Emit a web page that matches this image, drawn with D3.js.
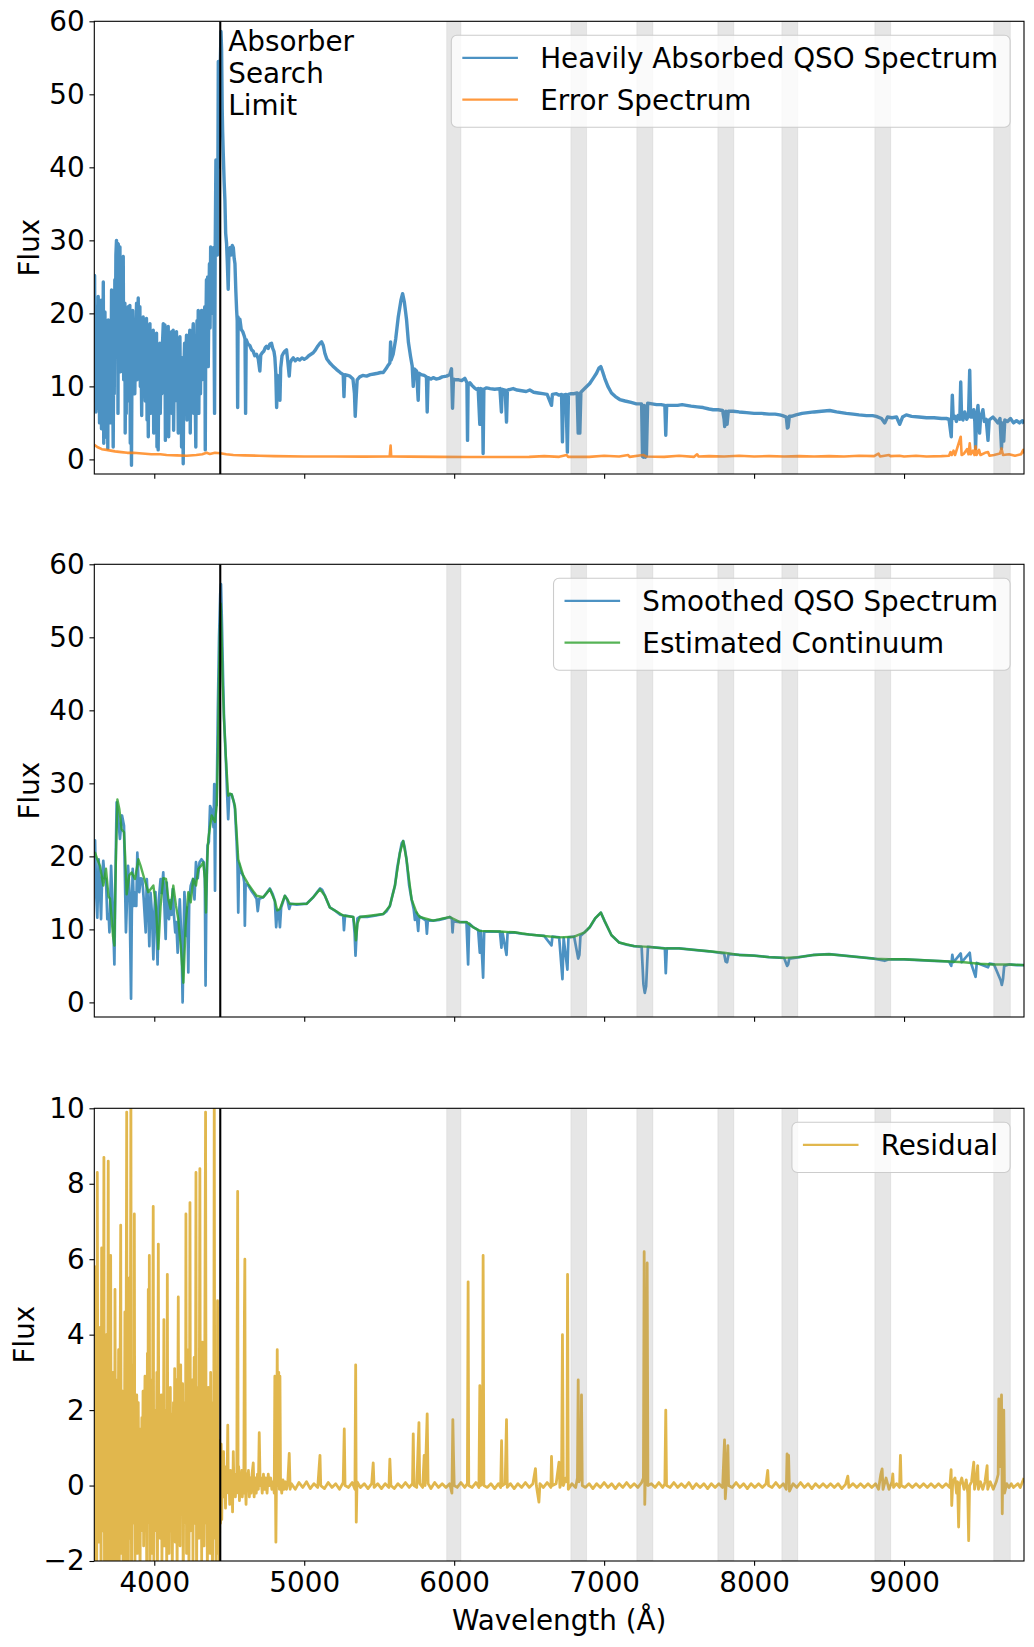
<!DOCTYPE html>
<html>
<head>
<meta charset="utf-8">
<script src="https://cdn.jsdelivr.net/npm/d3@7"></script>
<style>
  body { margin: 0; background: #fff; }
  text { font-family: "DejaVu Sans", sans-serif; }
</style>
</head>
<body>
<svg id="chart" width="1034" height="1647"></svg>
<script>
// wavelength ticks and flux ticks
const waveTicks = [4000, 5000, 6000, 7000, 8000, 9000];
const fluxTicks = [0, 10, 20, 30, 40, 50, 60];
const residualTicks = [-2, 0, 2, 4, 6, 8, 10];

// grey masked regions [start, end] in Angstrom
const bands = [[5950, 6045], [6778, 6883], [7218, 7325], [7758, 7865], [8185, 8291], [8805, 8911], [9598, 9709]];
const searchLimit = 4440;

// [wavelength, flux]
const rawSpectrum = [
  [3600,14],[3602,25.2],[3605,8],[3608,18],[3611,6.5],[3614,20],[3617,12],[3620,21],[3623,7],[3626,22.3],[3629,10],[3632,16],
  [3635,5],[3638,19],[3642,9],[3645,21.8],[3648,4.2],[3652,14],[3656,10],[3660,24.3],[3663,2.2],[3666,15],[3669,6],[3671,20.2],
  [3675,9],[3679,18],[3683,3],[3687,16],[3690,1.5],[3693,19.1],[3697,8],[3701,14],[3705,5],[3709,17],[3712,11],[3715,23.2],
  [3718,5.4],[3722,12],[3726,1.7],[3730,16],[3733,9],[3737,24.6],[3740,14],[3744,28],[3748,30],[3751,20],[3755,29.6],[3758,6.3],
  [3760,29.5],[3764,18],[3768,28],[3771,29.1],[3775,12],[3778,24],[3782,25.5],[3785,14],[3789,22],[3793,27.8],[3796,10.9],[3800,20],
  [3804,21.4],[3806,3.6],[3810,15],[3813,6.3],[3815,19],[3818,11],[3822,20],[3826,20.9],[3830,8],[3834,18],[3837,21.1],[3840,2.2],
  [3844,12],[3848,-0.8],[3852,16],[3856,20.4],[3860,10],[3865,18],[3870,9],[3876,17],[3882,21.4],[3885,10.9],[3889,18],[3893,22.1],
  [3897,12],[3901,19],[3904,20.9],[3907,10],[3911,16],[3916,6],[3920,18],[3926,19.5],[3930,10],[3934,15],[3940,8],[3944,17],
  [3948,19.3],[3952,5.4],[3956,14],[3960,3.1],[3964,15],[3967,9],[3971,18.6],[3975,6.3],[3980,16],[3984,8],[3988,14],[3993,17.7],
  [3996,3.6],[4000,12],[4004,16],[4008,6],[4012,14],[4015,17.3],[4018,1.7],[4022,10],[4026,1.3],[4030,12],[4034,8],[4037,15.9],
  [4040,6.3],[4045,14],[4050,9],[4055,16],[4060,18.6],[4063,10.9],[4067,17],[4071,18.4],[4074,2.6],[4078,12],[4082,8],[4087,15],
  [4093,18.2],[4096,3.1],[4100,12],[4105,7],[4110,15],[4115,17.5],[4118,6.3],[4122,14],[4126,17.7],[4129,4],[4133,12],[4138,8],
  [4143,15],[4148,17.5],[4152,10],[4156,14],[4160,3.6],[4164,12],[4167,8],[4171,16.8],[4175,6.3],[4179,14],[4182,1.7],[4186,12],
  [4190,7],[4193,-0.6],[4197,12],[4202,15.9],[4206,8],[4210,14],[4215,17],[4218,5.4],[4222,13],[4227,9],[4232,16],[4237,17.7],
  [4240,3.6],[4244,14],[4248,9],[4253,16],[4260,18.6],[4263,6.3],[4267,15],[4272,10],[4277,1.7],[4280,14],[4285,19],[4290,10],
  [4293,20.4],[4297,6.3],[4300,15],[4304,20],[4308,9],[4312,17],[4315,20.4],[4318,10.9],[4322,18],[4327,14],[4332,20],[4337,20.9],
  [4340,1.3],[4343,16],[4348,24.6],[4352,14],[4356,25],[4360,12.7],[4364,22],[4368,26.8],[4372,18],[4376,29.1],[4380,22],[4384,27.8],
  [4388,20],[4393,29],[4397,24],[4402,6.3],[4406,28],[4411,41],[4414,30],[4418,34.1],[4421,28],[4424,38],[4427,54.5],[4432,40],
  [4438,52],[4445,58.6],[4449,56],[4453,48],[4456,44.8],[4460,41.9],[4466,38],[4471,35.5],[4476,31],[4482,29.6],[4487,27],[4493,23.3],
  [4498,28.5],[4505,29],[4512,28],[4520,29.3],[4527,29],[4533,27.5],[4538,26.8],[4544,23],[4549,20.5],[4553,19],[4556,7.1],[4559,19.5],
  [4565,18],[4571,19.2],[4580,17.8],[4590,17.5],[4600,16.9],[4605,16.5],[4609,6.3],[4613,16.4],[4625,15.8],[4637,15.6],[4649,15],[4660,14.8],
  [4670,14.2],[4682,14.4],[4693,13.8],[4704,12.1],[4710,14.3],[4720,14.6],[4730,14.8],[4740,15.3],[4749,15.5],[4760,15.2],[4771,15.8],[4782,15.9],
  [4790,15.2],[4798,14.8],[4804,14],[4810,12],[4816,7.1],[4822,11.5],[4830,10.5],[4838,8.1],[4843,12.5],[4852,14.2],[4860,14.5],[4870,14.8],
  [4882,15],[4890,13.5],[4900,11.4],[4906,13.2],[4915,13.6],[4927,13.9],[4940,13.5],[4955,13.8],[4970,13.6],[4985,13.9],[5000,13.7],[5016,13.9],
  [5030,14.2],[5045,14.4],[5060,14.6],[5075,15],[5090,15.5],[5105,15.9],[5116,16.1],[5127,15.6],[5138,14.5],[5150,13.8],[5171,13.2],[5190,12.8],
  [5216,12.3],[5240,11.9],[5260,11.6],[5265,8.6],[5270,11.6],[5290,11.5],[5305,11.4],[5325,11],[5335,9],[5340,5.9],[5345,8],[5353,10.9],
  [5370,11.3],[5390,11.5],[5416,11.4],[5440,11.6],[5465,11.7],[5490,11.8],[5510,11.9],[5527,11.9],[5545,12.4],[5560,12.9],[5571,13.2],[5576,16.1],
  [5579,13.6],[5593,14.4],[5610,16.5],[5627,19.5],[5645,21.8],[5656,22.7],[5668,21.5],[5682,19.2],[5695,16],[5709,14.1],[5720,12.8],[5727,10],
  [5733,12.4],[5749,12.1],[5760,8.1],[5765,11.8],[5780,11.6],[5800,11.5],[5815,11.3],[5820,6.5],[5826,11.2],[5845,11],[5860,11.2],[5880,11],
  [5900,11.1],[5920,11.3],[5949,11.4],[5970,11.6],[5982,12.4],[5989,7],[5995,11],[6005,10.9],[6030,10.9],[6050,10.8],[6071,11.1],[6085,10.5],
  [6089,2.6],[6093,10.4],[6105,10.5],[6120,10.1],[6135,9.8],[6149,9.6],[6160,9.7],[6171,4.8],[6176,9.7],[6188,9.6],[6193,0.8],[6198,9.6],
  [6216,9.8],[6240,9.7],[6270,9.6],[6305,9.7],[6315,6.5],[6320,9.6],[6340,9.5],[6349,5.1],[6355,9.5],[6393,9.7],[6420,9.5],[6450,9.4],
  [6480,9.3],[6504,9.5],[6530,9.2],[6560,9.1],[6590,9],[6620,8.9],[6649,7.4],[6655,8.9],[6682,9],[6700,8.8],[6716,8.9],[6722,2.4],
  [6728,8.8],[6745,8.9],[6755,1],[6762,8.9],[6780,9],[6800,9],[6820,9.1],[6827,3.6],[6833,9],[6838,3.6],[6845,9.2],[6870,9.7],
  [6904,10.4],[6930,11.2],[6949,11.8],[6965,12.5],[6978,12.7],[6990,12],[7004,11.1],[7025,10],[7049,9.1],[7075,8.6],[7104,8.2],[7140,8],
  [7180,7.8],[7215,7.6],[7250,7.6],[7256,0.4],[7262,0.3],[7268,7.4],[7276,0.3],[7282,0.5],[7290,7.7],[7320,7.6],[7350,7.5],[7380,7.5],
  [7405,7.4],[7411,3.3],[7417,7.4],[7450,7.4],[7490,7.4],[7520,7.5],[7549,7.4],[7580,7.3],[7620,7.2],[7660,7.1],[7700,6.9],[7727,6.8],
  [7760,6.8],[7790,6.7],[7800,5.5],[7804,4.5],[7812,6.6],[7820,4.8],[7828,6.6],[7860,6.6],[7900,6.5],[7950,6.4],[8000,6.3],[8050,6.3],
  [8100,6.2],[8140,6.2],[8171,6.1],[8190,6],[8215,5.8],[8222,4.3],[8227,4.4],[8235,5.9],[8249,5.9],[8280,6.1],[8320,6.3],[8360,6.4],
  [8400,6.5],[8450,6.6],[8504,6.7],[8550,6.5],[8615,6.3],[8660,6.2],[8700,6.1],[8750,6],[8790,6],[8815,5.9],[8850,5.6],[8871,5],
  [8890,5.8],[8920,5.7],[8950,5.8],[8971,4.8],[8990,5.8],[9015,6.1],[9050,5.9],[9100,5.8],[9150,5.7],[9200,5.7],[9250,5.6],[9282,5.6],
  [9300,5.5],[9315,3.1],[9318,6],[9322,8.8],[9328,5.6],[9340,5.9],[9349,5.2],[9360,6],[9372,5.5],[9378,10.6],[9384,5.6],[9393,5.4],
  [9405,6.5],[9418,5.5],[9430,6],[9438,12.2],[9444,5.8],[9455,5.8],[9465,6.8],[9472,5.2],[9477,1.5],[9483,5.4],[9493,7.4],[9500,5],
  [9504,3.6],[9510,5.6],[9526,6.8],[9535,5.2],[9548,5.5],[9560,2.6],[9568,5.4],[9580,5.6],[9593,5.8],[9610,5.4],[9626,5],[9640,5.6],
  [9650,1.5],[9657,5],[9665,2.5],[9672,5.4],[9690,5.2],[9710,5.6],[9730,5],[9750,5.3],[9770,5],[9790,5.3],[9800,4.9]
];

const errorSpectrum = [
  [3600,2],[3620,1.7],[3650,1.4],[3682,1.3],[3710,1.2],[3738,1.1],[3780,1],[3820,0.9],[3860,0.9],[3920,0.8],[3980,0.7],[4040,0.7],
  [4082,0.6],[4150,0.55],[4216,0.5],[4280,0.6],[4320,0.7],[4349,0.9],[4370,0.75],[4405,0.9],[4440,0.85],[4480,0.7],[4527,0.6],[4600,0.55],
  [4700,0.5],[4800,0.45],[5000,0.4],[5200,0.4],[5400,0.38],[5570,0.4],[5576,1.9],[5580,0.4],[5700,0.38],[5900,0.35],[6100,0.33],[6300,0.33],
  [6500,0.35],[6600,0.45],[6700,0.35],[6750,0.6],[6760,0.35],[6900,0.35],[7000,0.5],[7100,0.4],[7160,0.6],[7170,0.35],[7260,0.6],[7280,0.4],
  [7400,0.35],[7500,0.5],[7600,0.35],[7620,0.7],[7630,0.4],[7700,0.45],[7800,0.4],[7900,0.5],[8000,0.4],[8100,0.45],[8200,0.4],[8300,0.45],
  [8400,0.4],[8500,0.45],[8600,0.4],[8700,0.5],[8800,0.45],[8830,0.8],[8840,0.4],[8900,0.6],[8910,0.45],[8970,0.5],[9000,0.4],[9080,0.5],
  [9150,0.4],[9250,0.45],[9300,0.5],[9310,1],[9318,0.6],[9330,1.2],[9340,0.6],[9378,3.1],[9384,0.6],[9400,0.8],[9420,1.4],[9430,0.7],
  [9438,2.2],[9445,0.7],[9460,1.2],[9470,0.6],[9477,1.8],[9484,0.6],[9500,1.3],[9510,0.6],[9540,0.9],[9560,1],[9570,0.5],[9600,0.6],
  [9640,0.8],[9650,1.5],[9660,0.6],[9700,0.7],[9740,0.5],[9780,0.7],[9795,1.3],[9800,0.8]
];

const smoothSpectrum = [
  [3600,21.5],[3605,22.2],[3612,15.1],[3620,11.6],[3629,19.6],[3637,16],[3645,11.4],[3652,17],[3660,19.4],[3669,17],[3678,16.9],[3687,11.4],
  [3696,12],[3701,9.6],[3712,18.7],[3722,13],[3730,8],[3734,5.2],[3740,16],[3749,27.4],[3760,25.1],[3771,22.4],[3785,25.6],[3798,24.2],
  [3811,9.6],[3818,14],[3825,18.7],[3835,15],[3845,0.5],[3850,12],[3856,18.3],[3864,13.2],[3871,15],[3880,13.2],[3887,20.5],[3894,17],
  [3900,15.1],[3909,17],[3920,16.9],[3930,14],[3943,9.6],[3950,16.9],[3960,13],[3967,7.7],[3975,15],[3985,12],[3994,5.9],[4000,12],
  [4008,15.1],[4015,10],[4022,5.2],[4030,14],[4042,16.9],[4050,15],[4060,17.8],[4068,13],[4076,8.7],[4083,16.4],[4090,12],[4098,11.4],
  [4106,14],[4115,12],[4123,15.5],[4131,12],[4140,9.6],[4147,11],[4156,6.8],[4163,11],[4170,14.1],[4178,10],[4184,6],[4189,0],
  [4195,8],[4201,15.1],[4208,12],[4214,9.1],[4220,13],[4227,4.1],[4233,14],[4243,16],[4258,16.9],[4268,14.1],[4278,19.2],[4290,17],
  [4302,19.2],[4315,19.6],[4330,19.2],[4337,17],[4342,2.3],[4347,14],[4355,21.5],[4364,22],[4372,26.9],[4387,26],[4395,24],[4400,29.9],
  [4405,15.3],[4410,26.9],[4416,27],[4424,40],[4432,50],[4440,56],[4445,57.3],[4451,52],[4458,45],[4465,39],[4478,33],[4485,29],
  [4493,25.1],[4500,28.5],[4516,28.5],[4530,27.5],[4538,26.5],[4549,22],[4555,19],[4560,12.3],[4565,19],[4575,18],[4593,17.3],[4600,16.5],
  [4604,10.5],[4609,16.2],[4627,16],[4650,15.2],[4665,14.8],[4682,14.2],[4690,12.5],[4700,14.2],[4727,14.4],[4750,15],[4771,15.6],[4790,14.8],
  [4804,13.9],[4813,10.3],[4820,12.6],[4830,12.6],[4838,10.3],[4846,13],[4871,14.6],[4887,14.1],[4900,12.8],[4910,13.5],[4950,13.4],[5000,13.5],
  [5016,13.5],[5060,14.4],[5090,15.2],[5105,15.6],[5120,15.4],[5138,14.6],[5171,13],[5210,12.5],[5240,12],[5260,11.9],[5265,9.9],[5272,11.9],
  [5300,11.8],[5327,11.7],[5336,9.5],[5342,6.4],[5348,9],[5355,11.5],[5371,11.7],[5420,11.7],[5480,11.9],[5527,12.1],[5550,12.5],[5571,13.2],
  [5590,14.8],[5605,16],[5620,18.4],[5638,20.5],[5650,21.8],[5660,22.1],[5670,21.2],[5682,19.6],[5700,16],[5716,14.1],[5730,12.8],[5738,11.3],
  [5749,12.3],[5760,9.8],[5766,11.8],[5790,11.5],[5812,11.2],[5818,9.4],[5824,11.2],[5860,11.2],[5900,11.3],[5940,11.5],[5971,11.7],[5985,11.4],
  [5989,9.6],[5994,11.1],[6038,11],[6082,11],[6093,5.2],[6100,10.8],[6127,10.3],[6160,9.9],[6171,6.8],[6178,9.8],[6193,3.4],[6200,9.7],
  [6250,9.7],[6305,9.7],[6315,7.5],[6322,9.6],[6349,6.5],[6356,9.5],[6400,9.6],[6450,9.4],[6500,9.3],[6550,9.2],[6600,9.1],[6649,7.8],
  [6655,9],[6700,8.9],[6722,3.2],[6730,8.8],[6755,4.5],[6762,8.9],[6800,9],[6827,6],[6835,6.5],[6842,9.1],[6870,9.6],[6904,10.3],
  [6940,11.5],[6978,12.3],[7004,11.1],[7049,9.2],[7100,8.2],[7150,7.9],[7200,7.7],[7250,7.6],[7262,2.5],[7271,1.3],[7280,2.2],[7292,7.6],
  [7350,7.5],[7405,7.4],[7411,4],[7418,7.4],[7500,7.4],[7600,7.2],[7700,7],[7800,6.7],[7810,5.6],[7820,5.5],[7830,6.6],[7900,6.5],
  [8000,6.4],[8100,6.2],[8200,6.1],[8220,5],[8227,5.2],[8235,6],[8300,6.2],[8400,6.5],[8500,6.6],[8600,6.4],[8700,6.2],[8800,6],
  [8871,5.7],[8900,5.9],[9000,5.9],[9100,5.8],[9200,5.7],[9300,5.6],[9315,5],[9322,6.5],[9330,5.5],[9378,6.7],[9385,5.5],[9438,6.8],
  [9445,5.5],[9477,3.5],[9485,5.4],[9500,5.3],[9560,4.8],[9570,5.3],[9600,5.2],[9645,3],[9652,2.4],[9660,3.2],[9668,5],[9700,5.2],
  [9750,5.1],[9800,5.1]
];

const continuum = [
  [3600,20.3],[3605,20.5],[3620,19.6],[3638,18.7],[3660,16],[3678,18.3],[3695,14.5],[3705,14.2],[3725,9],[3734,7.8],[3740,15],[3745,20.5],
  [3754,27.8],[3767,26.5],[3782,23.7],[3798,23.3],[3806,20],[3816,14.8],[3833,17.4],[3849,17.8],[3871,16.9],[3894,19.6],[3909,18.7],[3927,17.4],
  [3960,15.1],[3994,16],[4011,13.2],[4027,7.3],[4042,13.2],[4060,17],[4078,16.9],[4094,14.1],[4109,12.8],[4127,16],[4145,13.2],[4160,11.4],
  [4176,7.8],[4194,2.7],[4209,10.5],[4227,15.1],[4243,13.7],[4260,16.9],[4278,16],[4294,18.3],[4312,18.7],[4327,19.2],[4337,17],[4345,12.3],
  [4352,19],[4360,22.4],[4383,25.6],[4405,24.7],[4416,26.9],[4425,35],[4432,45],[4438,51],[4443,54.6],[4449,50],[4456,44],[4465,38.8],
  [4478,33.3],[4493,28.3],[4505,28.6],[4516,28.5],[4538,26.9],[4549,23.3],[4560,19.6],[4593,17.4],[4627,16.2],[4682,14.6],[4727,14.4],[4771,15.5],
  [4804,13.9],[4820,12.6],[4838,12.8],[4871,14.6],[4887,14.1],[4904,13.5],[5016,13.5],[5060,14.4],[5105,15.5],[5138,14.6],[5171,13],[5260,11.9],
  [5327,11.7],[5336,10.5],[5345,8.5],[5355,10.8],[5371,11.7],[5527,12.1],[5571,13.2],[5605,16],[5638,20.5],[5660,22.1],[5682,19.6],[5716,14.1],
  [5749,12.3],[5771,11.7],[5860,11.2],[5971,11.7],[6038,11],[6082,11],[6127,10.3],[6171,9.8],[6305,9.7],[6400,9.6],[6500,9.3],[6600,9.1],
  [6700,8.9],[6800,9],[6870,9.6],[6904,10.3],[6940,11.5],[6978,12.3],[7004,11.1],[7049,9.2],[7100,8.2],[7200,7.7],[7300,7.6],[7400,7.4],
  [7500,7.4],[7600,7.2],[7700,7],[7800,6.8],[7900,6.5],[8000,6.4],[8100,6.2],[8200,6.1],[8300,6.2],[8400,6.5],[8500,6.6],[8600,6.4],
  [8700,6.2],[8800,6],[8900,5.9],[9000,5.9],[9100,5.8],[9200,5.7],[9300,5.6],[9400,5.5],[9500,5.3],[9600,5.2],[9700,5.2],[9800,5.1]
];

const residual = [
  [3600,-3],[3603,5.8],[3607,-1],[3612,2],[3616,-2.6],[3620,8.3],[3624,0.5],[3628,-1.5],[3633,3.4],[3637,-0.5],[3641,4.2],[3645,-3],
  [3649,6.3],[3653,1],[3657,-1.2],[3661,2.5],[3664,8.7],[3668,-2.4],[3672,1.5],[3676,-0.8],[3681,4],[3685,-2.8],[3689,0.8],[3693,8.6],
  [3697,-1.5],[3701,2.2],[3705,-3],[3709,6.1],[3713,-0.6],[3717,1.8],[3721,-2.5],[3725,3],[3729,0.2],[3734,-3.5],[3738,5.2],[3742,-1],
  [3746,2.8],[3750,-2.2],[3754,1.2],[3758,-0.4],[3762,3.6],[3766,-2.8],[3770,1],[3776,6.9],[3780,-1.8],[3784,0.6],[3788,2.5],[3792,-2.6],
  [3796,1.4],[3800,-0.8],[3804,4.6],[3808,-2],[3812,3],[3816,9.9],[3819,-0.5],[3823,2],[3827,-3],[3831,5.5],[3835,-1.4],[3839,0.8],
  [3844,10.5],[3848,-2.8],[3852,1.6],[3856,-1],[3860,3.2],[3864,-0.4],[3867,7.2],[3871,-2.2],[3875,1.2],[3879,-0.6],[3883,2.4],[3887,-1.8],
  [3893,2.2],[3897,-0.3],[3901,1.5],[3905,-2.5],[3909,0.8],[3913,-1.2],[3917,1.8],[3921,-0.5],[3925,2.5],[3929,-1.6],[3933,0.6],[3938,2.9],
  [3942,-0.9],[3946,1.4],[3950,-2.8],[3954,3.5],[3957,-0.2],[3960,5.2],[3964,-1],[3967,6.1],[3971,-2.4],[3975,1],[3979,-0.6],[3983,2.8],
  [3987,-1.8],[3990,3.8],[3993,7.4],[3997,-2],[4001,0.8],[4005,-1.2],[4009,2],[4013,-0.4],[4017,3],[4021,-2.6],[4027,6.4],[4031,-0.8],
  [4035,1.6],[4039,-1.4],[4043,0.5],[4047,2.4],[4051,-2.2],[4055,1],[4060,-0.5],[4064,4.4],[4068,-1.6],[4072,1.2],[4076,-0.8],[4080,2],
  [4083,-2.8],[4087,5.6],[4091,-0.6],[4095,1.4],[4099,-1.8],[4103,0.9],[4107,2.6],[4111,-1.2],[4116,1.9],[4120,-2.5],[4124,0.6],[4128,2.2],
  [4132,-0.9],[4136,3.1],[4140,-1.5],[4144,0.4],[4148,2.8],[4152,-2.6],[4156,1.2],[4160,5],[4164,-0.8],[4168,1.6],[4172,-1.6],[4176,3.2],
  [4180,-0.4],[4184,1],[4189,2.7],[4193,-3],[4197,0.6],[4201,-1],[4205,2.2],[4208,-0.6],[4211,7.2],[4215,-1.8],[4219,1.4],[4223,-0.8],
  [4227,3.6],[4231,-2.4],[4234,0.8],[4238,7.5],[4242,-1.2],[4246,1.6],[4250,-0.6],[4254,2.8],[4258,-2],[4262,1],[4266,3.4],[4270,-1],
  [4274,0.6],[4278,8.3],[4282,-2.8],[4286,1.2],[4290,-0.5],[4294,2.6],[4298,-1.4],[4304,8.4],[4308,-0.8],[4312,1.8],[4316,-2],[4320,3.8],
  [4324,-0.4],[4328,1],[4332,-1.6],[4336,2.4],[4342,9.9],[4346,-1],[4350,1.4],[4354,-2.4],[4360,2.6],[4364,-0.6],[4368,1.2],[4372,-1.8],
  [4376,3],[4380,-0.4],[4384,1.6],[4388,-2.8],[4392,2.2],[4396,-0.8],[4400,10.5],[4404,-1.4],[4408,1],[4412,-2.2],[4416,2.4],[4420,-0.6],
  [4422,4.9],[4426,-1.8],[4430,1.2],[4434,-3],[4438,0.8],[4442,-1],[4446,1.1],[4450,-0.9],[4454,0.6],[4458,-0.3],[4462,0.9],[4466,-0.2],
  [4470,0.4],[4475,-0.6],[4480,0.5],[4485,-0.1],[4490,1.6],[4494,-0.2],[4498,0.3],[4503,-0.5],[4508,0.4],[4513,-0.1],[4518,0.3],[4522,-0.7],
  [4527,0.9],[4531,0],[4536,0.3],[4541,-0.3],[4546,0.2],[4550,-0.1],[4553,4],[4556,7.8],[4559,-0.2],[4563,0.5],[4568,-0.4],[4573,0.3],
  [4578,-0.1],[4583,0.4],[4587,-0.3],[4592,0.2],[4597,-0.2],[4601,4.5],[4604,6],[4607,0.1],[4612,-0.5],[4617,0.3],[4622,-0.1],[4628,0.4],
  [4634,-0.3],[4640,0.2],[4646,-0.2],[4652,0.3],[4660,0.6],[4666,-0.3],[4672,0.2],[4680,-0.2],[4688,0.3],[4694,-0.1],[4700,1.4],[4706,0],
  [4712,0.2],[4720,-0.2],[4728,0.3],[4736,-0.1],[4744,0.2],[4752,-0.2],[4760,0.3],[4768,0],[4776,0.2],[4784,-0.1],[4792,0.1],[4800,-0.2],
  [4804,2.9],[4808,0.1],[4811,-1.5],[4815,0.2],[4820,3.6],[4824,0],[4830,3],[4834,-0.1],[4838,2.9],[4842,0.1],[4850,-0.2],[4858,0.15],
  [4866,-0.1],[4874,0.1],[4882,-0.1],[4890,0.05],[4900,0.85],[4906,-0.1],[4914,0.05],[4940,-0.1],[4965,0.08],[4990,-0.05],[5015,0.1],[5040,-0.08],
  [5065,0.05],[5090,-0.05],[5105,0.8],[5110,0],[5135,-0.08],[5160,0.08],[5185,-0.05],[5210,0.05],[5235,-0.1],[5260,0.08],[5267,1.5],[5272,0],
  [5295,-0.05],[5320,0.08],[5338,-0.1],[5343,3.2],[5347,-0.97],[5352,0.1],[5375,-0.05],[5400,0.05],[5425,-0.08],[5450,0.05],[5460,0.6],[5466,-0.05],
  [5490,0.05],[5515,-0.08],[5540,0.05],[5565,-0.05],[5571,0.7],[5578,0],[5600,-0.08],[5625,0.05],[5650,-0.05],[5675,0.08],[5700,-0.05],[5722,0.05],
  [5727,1.37],[5732,0],[5750,-0.05],[5765,1.67],[5770,0.05],[5790,-0.05],[5800,0.8],[5806,0],[5820,1.9],[5826,0.05],[5845,-0.08],[5870,0.08],
  [5895,-0.05],[5920,0.05],[5945,-0.05],[5970,0.05],[5985,-0.2],[5991,1.75],[5995,0.9],[6000,0],[6020,-0.05],[6045,0.08],[6070,-0.05],[6088,0.05],
  [6093,5.4],[6097,0],[6120,-0.05],[6145,0.08],[6165,-0.05],[6171,2.65],[6176,0],[6188,0.05],[6193,6.1],[6198,0],[6220,-0.05],[6245,0.05],
  [6270,-0.08],[6295,0.05],[6310,-0.05],[6316,1.19],[6321,0],[6340,0.05],[6349,1.75],[6354,-0.05],[6375,0.05],[6400,-0.08],[6425,0.05],[6450,-0.05],
  [6475,0.08],[6500,-0.05],[6525,0.05],[6542,0.45],[6548,0],[6565,-0.44],[6572,0.05],[6595,-0.05],[6620,0.08],[6645,-0.05],[6649,0.77],[6655,0],
  [6680,0.05],[6699,0.62],[6705,-0.05],[6716,0.1],[6722,4],[6728,0],[6745,0.2],[6752,0.1],[6756,5.6],[6761,-0.1],[6785,0.05],[6810,-0.05],
  [6822,0.2],[6827,2.8],[6832,0.1],[6845,0.3],[6849,2.4],[6854,0],[6875,-0.05],[6900,0.05],[6925,-0.08],[6950,0.05],[6975,-0.05],[7000,0.08],
  [7025,-0.05],[7050,0.05],[7075,-0.08],[7100,0.05],[7125,-0.05],[7150,0.08],[7175,-0.05],[7200,0.05],[7225,-0.05],[7250,0.08],[7262,0.2],[7267,6.2],
  [7271,-0.5],[7275,0.3],[7282,1],[7287,5.9],[7292,0],[7315,0.05],[7340,-0.05],[7365,0.08],[7390,-0.05],[7405,0.05],[7411,2],[7416,0],
  [7440,-0.05],[7465,0.08],[7490,-0.05],[7515,0.05],[7540,-0.05],[7565,0.08],[7590,-0.08],[7615,0.05],[7640,-0.05],[7665,0.05],[7690,-0.08],[7715,0.05],
  [7740,-0.05],[7765,0.05],[7790,-0.05],[7803,1.21],[7808,-0.35],[7815,0.1],[7825,1.06],[7830,0],[7855,-0.05],[7880,0.08],[7905,-0.05],[7930,0.05],
  [7955,-0.08],[7980,0.05],[8005,-0.05],[8030,0.05],[8055,-0.05],[8080,0.05],[8091,0.4],[8096,0],[8120,-0.05],[8145,0.08],[8170,-0.05],[8195,0.05],
  [8215,-0.1],[8220,0.84],[8225,0.3],[8230,0.8],[8236,-0.15],[8260,0.05],[8285,-0.05],[8310,0.08],[8335,-0.05],[8360,0.05],[8385,-0.08],[8410,0.05],
  [8435,-0.05],[8460,0.05],[8485,-0.05],[8510,0.05],[8535,-0.05],[8560,0.05],[8585,-0.08],[8610,0.03],[8625,0.25],[8632,-0.05],[8660,0.05],[8685,-0.05],
  [8710,0.05],[8735,-0.05],[8760,0.05],[8785,-0.05],[8810,0.05],[8830,-0.1],[8845,0.3],[8854,0.44],[8860,-0.1],[8880,0.2],[8900,-0.1],[8920,0.1],
  [8925,0.31],[8930,-0.05],[8950,0.05],[8970,-0.05],[8976,0.8],[8981,0],[9005,-0.05],[9030,0.05],[9055,-0.05],[9080,0.05],[9105,-0.05],[9130,0.05],
  [9155,-0.05],[9180,0.05],[9205,-0.05],[9230,0.05],[9255,-0.05],[9280,0.05],[9305,-0.05],[9314,0.42],[9318,-0.53],[9325,0.1],[9340,0.2],[9350,-0.2],
  [9357,0.1],[9364,-1.1],[9370,0],[9385,0.2],[9400,-0.1],[9415,0.15],[9425,-0.2],[9431,-1.46],[9437,0],[9450,0.1],[9465,0.62],[9470,-0.1],
  [9480,0.1],[9491,0.53],[9496,-0.1],[9510,0.1],[9525,-0.1],[9540,0.1],[9554,0.53],[9558,-0.1],[9575,0.1],[9595,-0.1],[9615,0.1],[9628,0.3],
  [9632,2.3],[9640,0.5],[9647,1.5],[9650,2.4],[9655,-0.75],[9660,1],[9665,2],[9670,-0.2],[9685,0.05],[9700,-0.05],[9715,0.05],[9730,-0.05],
  [9745,0],[9760,0.05],[9775,-0.05],[9790,0.1],[9800,0.2]
];

const fontSize = 27.8;
const left = 94.3;
const right = 1024;
const panelH = 452.7;
const panelTops = [21.3, 564.3, 1108.3];

const svg = d3.select("#chart");

const x = d3.scaleLinear().domain([3600, 9800]).range([left, right]);

const drawPanel = (idx, yDomain, yTicks, showXLabels) => {
  const top = panelTops[idx];
  const y = d3.scaleLinear().domain(yDomain).range([top + panelH, top]);
  const g = svg.append("g").attr("class", "panel-" + idx);

  g.append("clipPath")
    .attr("id", "clip" + idx)
    .append("rect")
    .attr("x", left)
    .attr("y", top)
    .attr("width", right - left)
    .attr("height", panelH);

  const plot = g.append("g").attr("clip-path", `url(#clip${idx})`);

  const xAxis = d3
    .axisBottom(x)
    .tickValues(waveTicks)
    .tickSize(4.86)
    .tickSizeOuter(0)
    .tickPadding(6)
    .tickFormat(showXLabels ? d3.format("d") : () => "");

  const yAxis = d3
    .axisLeft(y)
    .tickValues(yTicks)
    .tickSize(4.86)
    .tickSizeOuter(0)
    .tickPadding(4.86)
    .tickFormat((v) => (v < 0 ? "\u2212" + Math.abs(v) : String(v)));

  const gx = g
    .append("g")
    .attr("transform", `translate(0, ${top + panelH})`)
    .call(xAxis);
  const gy = g.append("g").attr("transform", `translate(${left}, 0)`).call(yAxis);

  [gx, gy].forEach((ax) => {
    ax.select(".domain").remove();
    ax.selectAll("line").attr("stroke", "#000").attr("stroke-width", 1.1);
    ax.selectAll("text").style("font-size", fontSize + "px").attr("fill", "#000");
  });

  const labelX = gy.node().getBBox().x + left - 10;
  g.append("text")
    .attr("transform", `translate(${labelX}, ${top + panelH / 2}) rotate(-90)`)
    .attr("text-anchor", "middle")
    .style("font-size", fontSize + "px")
    .text("Flux");

  return { g, plot, y, top };
};

const drawLine = (panel, data, color, width) => {
  const line = d3
    .line()
    .x((d) => x(d[0]))
    .y((d) => panel.y(d[1]));
  panel.plot
    .append("path")
    .datum(data)
    .attr("d", line)
    .attr("fill", "none")
    .attr("stroke", color)
    .attr("stroke-opacity", 0.8)
    .attr("stroke-width", width)
    .attr("stroke-linejoin", "round");
};

const drawBands = (panel) => {
  panel.plot
    .selectAll("rect.band")
    .data(bands)
    .enter()
    .append("rect")
    .attr("class", "band")
    .attr("x", (d) => x(d[0]))
    .attr("y", panel.top)
    .attr("width", (d) => x(d[1]) - x(d[0]))
    .attr("height", panelH)
    .attr("fill", "gray")
    .attr("fill-opacity", 0.2)
    .attr("stroke", "gray")
    .attr("stroke-opacity", 0.12)
    .attr("stroke-width", 1);
};

const drawLimit = (panel) => {
  panel.plot
    .append("line")
    .attr("x1", x(searchLimit))
    .attr("x2", x(searchLimit))
    .attr("y1", panel.top)
    .attr("y2", panel.top + panelH)
    .attr("stroke", "#000")
    .attr("stroke-width", 2.1);
};

const drawFrame = (panel) => {
  panel.g
    .append("rect")
    .attr("x", left)
    .attr("y", panel.top)
    .attr("width", right - left)
    .attr("height", panelH)
    .attr("fill", "none")
    .attr("stroke", "#000")
    .attr("stroke-width", 1.1);
};

const drawLegend = (panel, items) => {
  const lg = panel.g.append("g");
  const box = lg.append("rect");
  const texts = items.map((item, i) =>
    lg
      .append("text")
      .attr("y", panel.top + 13.9 + 22.7 + i * 41.7 + 10)
      .style("font-size", fontSize + "px")
      .text(item.label)
  );
  const textW = d3.max(texts, (t) => t.node().getComputedTextLength());
  const boxW = 88.8 + textW + 12;
  const boxH = 22.7 + (items.length - 1) * 41.7 + 27.6;
  const bx = right - 13.9 - boxW;
  const by = panel.top + 13.9;
  box
    .attr("x", bx)
    .attr("y", by)
    .attr("width", boxW)
    .attr("height", boxH)
    .attr("rx", 5.5)
    .attr("fill", "#fff")
    .attr("fill-opacity", 0.8)
    .attr("stroke", "#ccc")
    .attr("stroke-width", 1.1);
  texts.forEach((t) => t.attr("x", bx + 88.8));
  items.forEach((item, i) => {
    lg.append("line")
      .attr("x1", bx + 11)
      .attr("x2", bx + 11 + 55.6)
      .attr("y1", by + 22.7 + i * 41.7)
      .attr("y2", by + 22.7 + i * 41.7)
      .attr("stroke", item.color)
      .attr("stroke-opacity", 0.8)
      .attr("stroke-width", 2.1);
  });
};

const blue = "#1f77b4";
const orange = "#ff7f0e";
const green = "#2ca02c";
const gold = "#daa520";

// panel 1: raw spectrum with error
const p1 = drawPanel(0, [-2, 60], fluxTicks, false);
drawLine(p1, rawSpectrum, blue, 3.4);
drawLine(p1, errorSpectrum, orange, 2.6);
drawBands(p1);
drawLimit(p1);
drawFrame(p1);
["Absorber", "Search", "Limit"].forEach((word, i) => {
  p1.g
    .append("text")
    .attr("x", x(searchLimit) + 8)
    .attr("y", 51 + i * 32)
    .style("font-size", fontSize + "px")
    .text(word);
});
drawLegend(p1, [
  { label: "Heavily Absorbed QSO Spectrum", color: blue },
  { label: "Error Spectrum", color: orange }
]);

// panel 2: smoothed spectrum and continuum fit
const p2 = drawPanel(1, [-2, 60], fluxTicks, false);
drawLine(p2, smoothSpectrum, blue, 2.7);
drawLine(p2, continuum, green, 2.4);
drawBands(p2);
drawLimit(p2);
drawFrame(p2);
drawLegend(p2, [
  { label: "Smoothed QSO Spectrum", color: blue },
  { label: "Estimated Continuum", color: green }
]);

// panel 3: residual
const p3 = drawPanel(2, [-2, 10], residualTicks, true);
drawLine(p3, residual, gold, 2.8);
drawBands(p3);
drawLimit(p3);
drawFrame(p3);
drawLegend(p3, [{ label: "Residual", color: gold }]);

svg
  .append("text")
  .attr("x", (left + right) / 2)
  .attr("y", 1630)
  .attr("text-anchor", "middle")
  .style("font-size", fontSize + "px")
  .text("Wavelength (\u00c5)");
</script>
</body>
</html>
